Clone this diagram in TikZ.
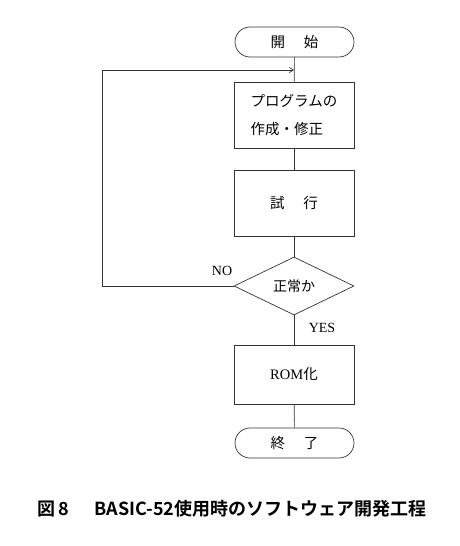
\documentclass[tikz,border=0pt]{standalone}
\usepackage{fontspec}
\setmainfont{Liberation Serif}
\newfontfamily\jp{Noto Sans CJK JP}
\newfontfamily\jpb{Noto Sans CJK JP Bold}
\usetikzlibrary{shapes.geometric,shapes.misc,arrows.meta}
\begin{document}
\begin{tikzpicture}[x=1pt,y=-1pt,
  line/.style={draw=black!80, line width=0.7pt},
  term/.style={line, rounded rectangle, minimum width=119pt, minimum height=30pt, inner sep=0pt, font=\jp\fontsize{14.5}{16}\selectfont},
  proc/.style={line, rectangle, minimum width=120pt, minimum height=66pt, inner sep=0pt, align=left, font=\jp\fontsize{14.5}{28}\selectfont},
  dec/.style={line, diamond, minimum width=120pt, minimum height=58pt, inner sep=0pt, aspect=2.07, font=\jp\fontsize{14}{16}\selectfont},
  lbl/.style={font=\fontsize{14}{16}\selectfont}]
\useasboundingbox (0,0) rectangle (460,546);
\node[term] (start) at (294.5,42) {開\hspace{1.3em}始};
\node[proc] (p1) at (294,115) {プログラムの\\作成・修正};
\node[proc] (p2) at (294,203) {試\hspace{1.3em}行};
\node[dec] (d) at (294,286) {正常か};
\node[proc, minimum height=59pt] (rom) at (294,374.5) {\fontspec{Liberation Serif}ROM\jp 化};
\node[term] (end) at (294.5,443) {終\hspace{1.3em}了};
\coordinate (m) at (294,70);
\coordinate (c1) at (102,286);
\coordinate (c2) at (102,70);
\draw[line] (start) -- (p1);
\draw[line] (p1) -- (p2);
\draw[line] (p2) -- (d);
\draw[line] (d) -- (rom);
\draw[line] (rom) -- (end);
\draw[line, -{Straight Barb[length=4pt,width=5pt]}] (d.west) -- (c1) -- (c2) -- (m);
\node[lbl] (no) at (222,271) {NO};
\node[lbl] (yes) at (322,328) {YES};
\node[font=\jpb\fontsize{18}{20}\selectfont, anchor=west] (cap) at (34,509) {図\,8\hspace{1.4em}BASIC-52使用時のソフトウェア開発工程};
\end{tikzpicture}
\end{document}
